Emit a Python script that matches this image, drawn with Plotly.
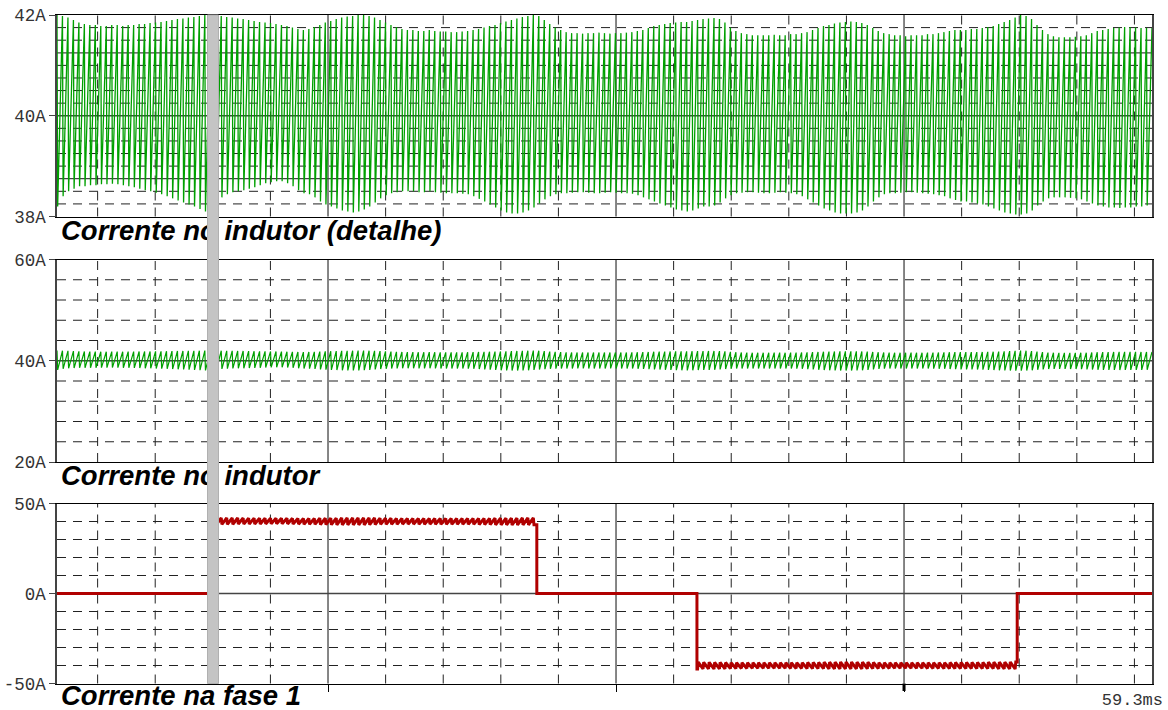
import plotly.graph_objects as go

W, H = 1168, 710

# ---------------- data ----------------
t_start_ms = 57.399
t_end_ms = 59.3
n_cycles = 200

# per-cycle ripple peaks / troughs of the inductor current (A)
iL_upper = [
    42.0, 41.98, 41.95, 41.9, 41.85,
    41.82, 41.8, 41.8, 41.78, 41.78, 41.8, 41.8, 41.78, 41.8, 41.8, 41.82, 41.82, 41.84,
    41.85, 41.86, 41.88, 41.9, 41.92, 41.93, 41.95, 41.96, 41.98, 42.0,
    42.0, 42.0, 41.98, 41.96, 41.95, 41.93, 41.92, 41.9, 41.88, 41.86,
    41.85, 41.84, 41.82, 41.8, 41.78, 41.75, 41.72,
    41.7, 41.72, 41.76, 41.8, 41.85,
    41.88, 41.92, 41.95, 41.97, 41.98, 42.0, 42.0, 41.98, 41.95, 41.9, 41.85,
    41.8, 41.76, 41.72, 41.7, 41.7, 41.68, 41.68, 41.7, 41.68, 41.67, 41.67,
    41.66, 41.66, 41.67, 41.68, 41.7, 41.72, 41.75,
    41.78, 41.8, 41.84, 41.87, 41.9, 41.93, 41.96, 41.98, 42.0, 41.98,
    41.9, 41.82, 41.75,
    41.7, 41.66, 41.64, 41.64, 41.63, 41.64, 41.64, 41.65, 41.64, 41.63, 41.64, 41.64,
    41.65, 41.66, 41.68, 41.7, 41.74, 41.78, 41.8,
    41.82, 41.84, 41.85, 41.86, 41.86, 41.88, 41.9,
    41.92, 41.93, 41.94, 41.92, 41.85, 41.75,
    41.68, 41.64, 41.62, 41.6, 41.6, 41.6, 41.6, 41.61, 41.6, 41.6, 41.62, 41.62,
    41.64, 41.66, 41.7, 41.74, 41.78, 41.8,
    41.83, 41.85, 41.86, 41.87, 41.86, 41.84, 41.8, 41.74, 41.68,
    41.64, 41.62, 41.6, 41.6, 41.58, 41.6, 41.6, 41.6, 41.62, 41.62, 41.64, 41.66, 41.68, 41.7,
    41.7, 41.7, 41.72, 41.72, 41.74, 41.76, 41.78, 41.82,
    41.86, 41.9, 41.95, 42.0, 41.98, 41.92, 41.8,
    41.7, 41.62, 41.58, 41.56, 41.56, 41.56, 41.57, 41.58, 41.6, 41.64, 41.68,
    41.7, 41.72, 41.74, 41.75, 41.76, 41.76, 41.75, 41.74, 41.74,
]
iL_lower = [
    38.2, 38.4, 38.5, 38.55, 38.6,
    38.6, 38.62, 38.62, 38.64, 38.64, 38.65, 38.64, 38.62, 38.6, 38.58, 38.55, 38.52, 38.5,
    38.47, 38.44, 38.4, 38.36, 38.32, 38.28, 38.24, 38.2, 38.15, 38.1,
    38.2, 38.3, 38.38, 38.44, 38.48, 38.5, 38.52, 38.55, 38.58, 38.62,
    38.66, 38.68, 38.7, 38.7, 38.66, 38.6, 38.52,
    38.46, 38.44, 38.38, 38.3, 38.24,
    38.2, 38.16, 38.12, 38.1, 38.08, 38.1, 38.14, 38.2, 38.28, 38.36, 38.42,
    38.46, 38.48, 38.5, 38.5, 38.5, 38.48, 38.48, 38.5, 38.48, 38.47, 38.46,
    38.46, 38.46, 38.45, 38.44, 38.4, 38.35, 38.3,
    38.24, 38.18, 38.12, 38.08, 38.06, 38.06, 38.08, 38.12, 38.18, 38.26,
    38.34, 38.4, 38.44,
    38.46, 38.46, 38.47, 38.48, 38.48, 38.47, 38.46, 38.46, 38.47, 38.48, 38.47, 38.46,
    38.46, 38.45, 38.42, 38.38, 38.34, 38.3, 38.26,
    38.22, 38.18, 38.14, 38.12, 38.1, 38.12, 38.16,
    38.2, 38.2, 38.22, 38.28, 38.36, 38.42,
    38.46, 38.47, 38.48, 38.48, 38.47, 38.46, 38.46, 38.47, 38.48, 38.47, 38.46, 38.44,
    38.4, 38.34, 38.28, 38.22, 38.16, 38.12,
    38.08, 38.06, 38.06, 38.06, 38.08, 38.12, 38.2, 38.3, 38.38,
    38.44, 38.46, 38.46, 38.47, 38.48, 38.48, 38.47, 38.46, 38.45, 38.44, 38.42, 38.4, 38.36, 38.33,
    38.3, 38.3, 38.28, 38.26, 38.24, 38.2, 38.16, 38.12,
    38.08, 38.06, 38.04, 38.04, 38.06, 38.12, 38.22,
    38.3, 38.36, 38.38, 38.38, 38.38, 38.37, 38.36, 38.34, 38.3, 38.26, 38.22,
    38.2, 38.18, 38.18, 38.17, 38.18, 38.18, 38.2, 38.2, 38.22,
]

# phase-1 current: switching instants (ms) and conduction state (+1 / 0 / -1)
phase_switch_ms = [57.675, 58.232, 58.510, 59.066]
phase_state = [0, 1, 0, -1, 0]

# axis tick labels
det_ticks = [38, 40, 42]
det_text = ["38A", "40A", "42A"]
ind_ticks = [20, 40, 60]
ind_text = ["20A", "40A", "60A"]
ph_ticks = [-50, 0, 50]
ph_text = ["-50A", "0A", "50A"]

titles = ["Corrente no indutor (detalhe)", "Corrente no indutor", "Corrente na fase 1"]
time_label = "59.3ms"

# ---------------- build the traces ----------------
T = (t_end_ms - t_start_ms) / n_cycles
t_pts, iL_pts = [], []
for k in range(n_cycles):
    tk = t_start_ms + k * T
    t_pts += [tk, tk + 0.12 * T]
    iL_pts += [iL_upper[k], iL_lower[k]]
t_pts.append(t_end_ms)
iL_pts.append(iL_upper[-1])


def state_at(t):
    s = phase_state[0]
    for i, ts in enumerate(phase_switch_ms):
        if t >= ts:
            s = phase_state[i + 1]
    return s


ph_t, ph_v = [], []
prev_s = None
for i, (t, v) in enumerate(zip(t_pts, iL_pts)):
    s = state_at(t)
    if prev_s is not None and s != prev_s:
        ts = max(x for x in phase_switch_ms if x <= t)
        ph_t += [ts, ts]
        ph_v += [prev_s * iL_pts[i - 1], s * v]
    ph_t.append(t)
    ph_v.append(s * v)
    prev_s = s

GREEN = "#00a000"
RED = "#b00000"

fig = go.Figure()
fig.add_trace(go.Scatter(x=t_pts, y=iL_pts, mode="lines", line=dict(color=GREEN, width=1.3),
                         xaxis="x", yaxis="y", hoverinfo="skip", showlegend=False))
fig.add_trace(go.Scatter(x=t_pts, y=iL_pts, mode="lines", line=dict(color=GREEN, width=1.2),
                         xaxis="x2", yaxis="y2", hoverinfo="skip", showlegend=False))
fig.add_trace(go.Scatter(x=ph_t, y=ph_v, mode="lines", line=dict(color=RED, width=3),
                         xaxis="x3", yaxis="y3", hoverinfo="skip", showlegend=False))

# text overlay (pixel coordinates) so the cursor band can cover it
title_font = dict(family="Liberation Sans, Arial", size=27.5, color="black", weight="bold", style="italic")
fig.add_trace(go.Scatter(x=[61, 61, 61], y=[233, 478, 698], text=titles, mode="text",
                         textposition="middle right", textfont=title_font, cliponaxis=False,
                         xaxis="x4", yaxis="y4", hoverinfo="skip", showlegend=False))
fig.add_trace(go.Scatter(x=[1163], y=[701], text=[time_label], mode="text",
                         textposition="middle left", cliponaxis=False,
                         textfont=dict(family="Liberation Mono, monospace", size=17, color="#333"),
                         xaxis="x4", yaxis="y4", hoverinfo="skip", showlegend=False))


def py(v):
    return 1 - v / H


xdom = [57 / W, 1152 / W]
panels = [  # (top px, bottom px, range)
    (15, 216.5, [38, 42]),
    (259.5, 462, [20, 60]),
    (503.5, 683.5, [-50, 50]),
]

tick_font = dict(family="Liberation Mono, monospace", size=17.5, color="#333")
tickinfo = [(det_ticks, det_text), (ind_ticks, ind_text), (ph_ticks, ph_text)]

major_t = [t_start_ms + 0.4705 + 0.5 * j for j in range(3)]
minor_t = []
j = 0
while True:
    tt = t_start_ms + 0.0705 + 0.1 * j
    if tt >= t_end_ms:
        break
    minor_t.append(tt)
    j += 1

layout = dict(width=W, height=H, margin=dict(l=0, r=0, t=0, b=0, pad=0, autoexpand=False),
              autosize=False, template="none",
              paper_bgcolor="white", plot_bgcolor="rgba(0,0,0,0)", showlegend=False)

for i, (top, bot, rng) in enumerate(panels):
    sfx = "" if i == 0 else str(i + 1)
    tv, tt_ = tickinfo[i]
    layout["xaxis" + sfx] = dict(domain=xdom, range=[t_start_ms, t_end_ms], anchor="y" + sfx,
                                 automargin=False,
                                 showgrid=False, zeroline=False, showticklabels=False,
                                 showline=True, mirror=True, linecolor="black", linewidth=1,
                                 ticks="outside" if i == 2 else "", tickvals=major_t if i == 2 else None,
                                 ticklen=7, tickcolor="black", tickwidth=1)
    layout["yaxis" + sfx] = dict(domain=[py(bot), py(top)], range=rng, anchor="x" + sfx,
                                 automargin=False,
                                 showgrid=False, zeroline=False, tickvals=tv, ticktext=tt_,
                                 ticks="outside", ticklen=6, tickcolor="#444", tickfont=tick_font,
                                 showline=True, mirror=True, linecolor="#444", linewidth=1.5)

layout["xaxis4"] = dict(domain=[0, 1], range=[0, W], anchor="y4", visible=False, fixedrange=True,
                        automargin=False, showgrid=False, zeroline=False)
layout["yaxis4"] = dict(domain=[0, 1], range=[H, 0], anchor="x4", visible=False, fixedrange=True,
                        automargin=False, showgrid=False, zeroline=False)

shapes = []
DASH = "9px,7px"
hgrid = [
    ([38 + 0.25 * k for k in range(1, 16)], [41.25, 40.0, 38.75]),
    ([20 + 4 * k for k in range(1, 10)], [40]),
    ([-50 + 10 * k for k in range(1, 10)], [0]),
]
for i in range(3):
    sfx = "" if i == 0 else str(i + 1)
    xr, yr = "x" + sfx, "y" + sfx
    vals, solids = hgrid[i]
    for v in vals:
        solid = any(abs(v - s) < 1e-9 for s in solids)
        shapes.append(dict(type="line", xref=xr + " domain", yref=yr, x0=0, x1=1, y0=v, y1=v,
                           layer="below",
                           line=dict(color="#444" if solid else "#222", width=1.3 if solid else 1,
                                     dash="solid" if solid else DASH)))
    for t in minor_t:
        solid = any(abs(t - m) < 1e-6 for m in major_t)
        shapes.append(dict(type="line", xref=xr, yref=yr + " domain", x0=t, x1=t, y0=0, y1=1,
                           layer="below",
                           line=dict(color="#444" if solid else "#222", width=1.3 if solid else 1,
                                     dash="solid" if solid else DASH)))

# bold time marker tick under the bottom panel
shapes.append(dict(type="line", xref="x3", yref="paper", x0=major_t[2], x1=major_t[2],
                   y0=py(691), y1=py(683.5), line=dict(color="black", width=3), layer="above"))

# grey cursor band
shapes.append(dict(type="rect", xref="paper", yref="paper", x0=207.5 / W, x1=218.5 / W,
                   y0=py(683.5), y1=py(15), fillcolor="#c4c4c4", line=dict(color="#b0b0b0", width=1),
                   layer="above"))

layout["shapes"] = shapes
fig.update_layout(**layout)
fig.write_html("out.html", config={"displayModeBar": False},
               post_script="document.body.style.margin='0';document.body.style.overflow='hidden';")
